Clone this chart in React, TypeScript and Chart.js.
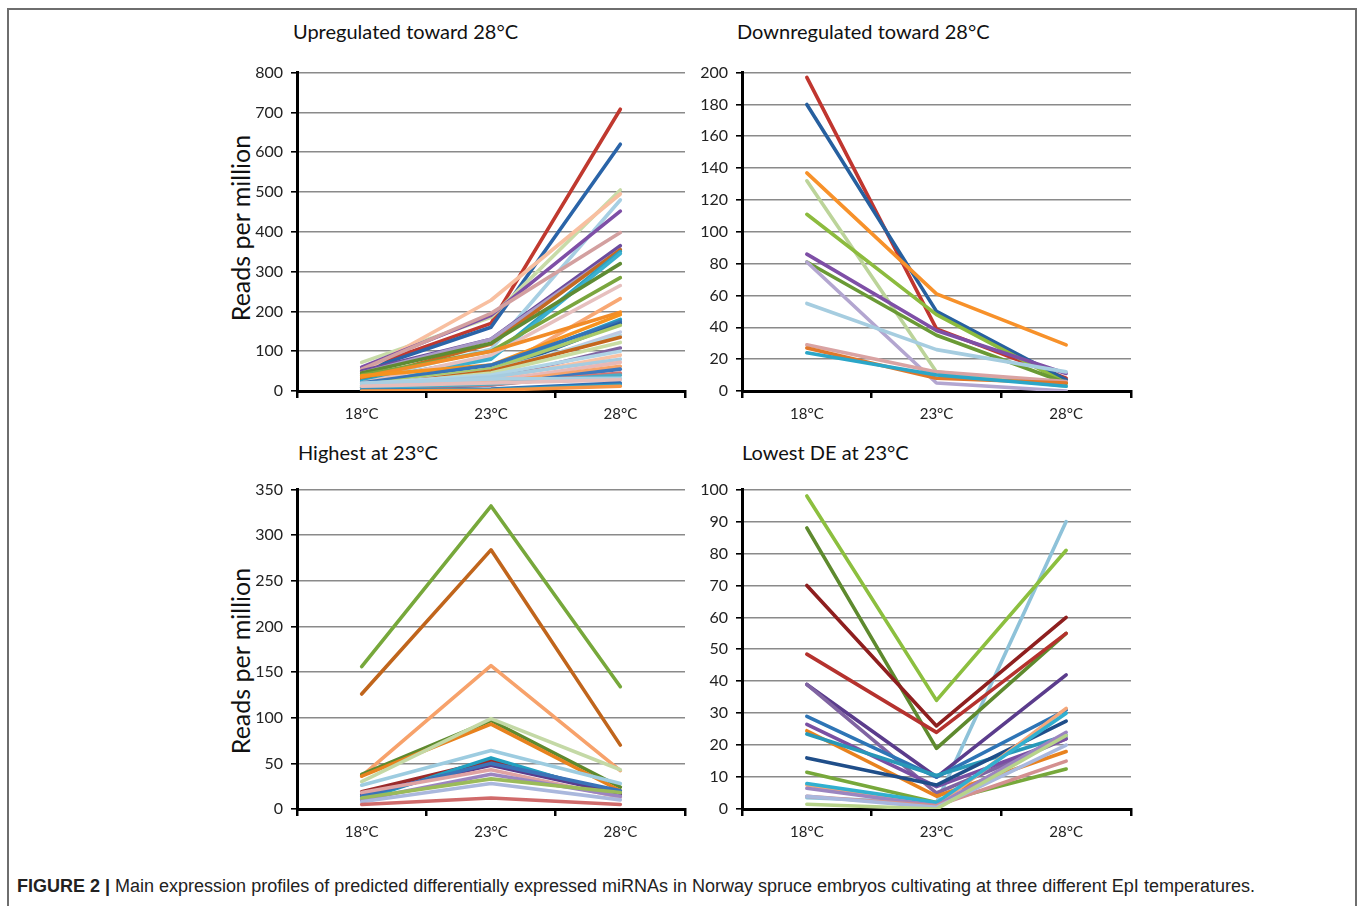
import React, { useEffect, useRef } from "react";
import { Chart, registerables } from "chart.js";

Chart.register(...registerables);

// ---------- data ----------
const temperatures = ["18°C", "23°C", "28°C"];

// Upregulated toward 28°C: [18°C, 23°C, 28°C]
const upregulated: number[][] = [
  [0, 2, 12], [1, 3, 15], [2, 5, 20], [12, 20, 28], [20, 30, 32], [8, 18, 40],
  [5, 15, 45], [3, 15, 55], [5, 20, 62], [10, 25, 72], [15, 35, 80], [8, 30, 90],
  [18, 40, 100], [5, 30, 108], [12, 45, 122], [10, 50, 135], [12, 50, 140],
  [10, 40, 148], [15, 55, 165], [8, 45, 170], [20, 65, 175], [10, 55, 180],
  [38, 65, 192], [35, 100, 198], [15, 45, 232], [20, 90, 265], [40, 100, 285],
  [45, 120, 320], [22, 80, 345], [25, 85, 350], [30, 118, 355], [45, 130, 355],
  [50, 130, 365], [55, 195, 398], [60, 190, 452], [28, 105, 480], [48, 228, 495],
  [72, 185, 505], [50, 160, 620], [55, 170, 708],
];
const upColors = [
  "#F79646", "#2E9FC2", "#2F6EB5", "#E6BDBB", "#A9CFE2", "#4BACC6",
  "#D27573", "#3C79BE", "#F7A36A", "#E8B8B6", "#A6CCE0", "#F9C2A4",
  "#B0D4E6", "#8064A2", "#C9DDA4", "#C4661D", "#B4D6E6",
  "#BFC8E4", "#A9CA6A", "#285F9E", "#3574B8", "#2A9EC1",
  "#F6921E", "#F28C28", "#F8A874", "#E6C0BE", "#7AA63E",
  "#5F8B33", "#3BB0CF", "#2CA0C0", "#C46A22", "#A99BC7",
  "#6C4C9E", "#D3A0A0", "#7E4FA6", "#A7CFE3", "#F8BFA0",
  "#C8DBA8", "#2A64A8", "#C0392F",
];

// Downregulated toward 28°C
const downregulated: number[][] = [
  [24, 10, 3], [27, 8, 5], [29, 12, 6], [55, 26, 12], [81, 5, 0], [81, 35, 5],
  [86, 38, 11], [111, 48, 5], [132, 12, 3], [137, 61, 29], [180, 50, 7], [197, 39, 8],
];
const downColors = [
  "#2BA6C8", "#E0782A", "#D9A3A3", "#A6CDE0", "#B3A6D0", "#6A9A35",
  "#7E4FA6", "#8CBB3E", "#BCD49A", "#F7912A", "#27609F", "#C0362F",
];

// Highest at 23°C
const highest23: number[][] = [
  [5, 12, 5], [8, 28, 10], [12, 33, 18], [10, 38, 14], [18, 43, 13], [14, 50, 20],
  [16, 48, 17], [10, 56, 14], [19, 53, 17], [26, 64, 28], [30, 99, 43], [36, 93, 20],
  [38, 97, 24], [36, 157, 42], [126, 284, 70], [156, 332, 134],
];
const highColors = [
  "#D06A6A", "#AAB8DD", "#9BBB59", "#9C85C0", "#DFA3A3", "#3A73B8",
  "#5B3C8C", "#22A0C0", "#9B2B2B", "#9DCCE0", "#C4D9A6", "#E8821E",
  "#5E8A2E", "#F7A26B", "#C0651C", "#77A83B",
];

// Lowest DE at 23°C
const lowest23: number[][] = [
  [1.5, 0, 23], [4, 0.5, 20], [4, 1, 15], [6.5, 1, 24], [8, 2, 30], [7.5, 1, 31.5],
  [11.5, 2, 12.5], [16, 7.5, 27.5], [23.5, 10.5, 23], [24.5, 4, 18], [26.5, 7, 22],
  [29, 10, 31], [39, 5, 22], [39, 10, 42], [48.5, 24, 55], [70, 26, 60],
  [88, 19, 55], [98, 34, 81], [3.5, 2, 90],
];
const lowColors = [
  "#B7D38A", "#A9B8DE", "#D49090", "#9C85C0", "#31B0D0", "#F5A77A",
  "#77A83B", "#1F4E89", "#2898B8", "#E8821E", "#7A4FA3",
  "#2E75B6", "#8064A2", "#5B3C8C", "#B5322E", "#8E1F1F",
  "#5E8A2E", "#8CBF3F", "#8EC2D9",
];

// ---------- chart ----------
type PanelProps = {
  series: number[][];
  colors: string[];
  max: number;
  step: number;
  left: number;
  top: number;
  width: number;
  height: number;
  yWidth: number;
};

const FONT = "Lato, 'Open Sans', sans-serif";

function Panel(p: PanelProps) {
  const ref = useRef<HTMLCanvasElement | null>(null);
  useEffect(() => {
    if (!ref.current) return;
    const chart = new Chart(ref.current, {
      type: "line",
      data: {
        labels: temperatures,
        datasets: p.series.map((s, i) => ({
          data: s,
          borderColor: p.colors[i % p.colors.length],
          backgroundColor: p.colors[i % p.colors.length],
          borderWidth: 3.6,
          pointRadius: 0,
          tension: 0,
          fill: false,
          borderCapStyle: "round" as const,
          borderJoinStyle: "round" as const,
        })),
      },
      options: {
        animation: false,
        responsive: false,
        maintainAspectRatio: false,
        layout: { padding: { top: 4, right: 5, left: 0, bottom: 0 } },
        plugins: { legend: { display: false }, tooltip: { enabled: false } },
        scales: {
          x: {
            offset: true,
            grid: {
              offset: true,
              drawOnChartArea: false,
              drawTicks: true,
              tickLength: 7,
              color: "#000",
              lineWidth: 2.5,
            },
            border: { color: "#000", width: 3 },
            ticks: { font: { family: FONT, size: 15 }, color: "#222", padding: 7, maxRotation: 0 },
            afterFit: (s: any) => {
              s.height = 41;
            },
          },
          y: {
            min: 0,
            max: p.max,
            ticks: { stepSize: p.step, font: { family: FONT, size: 16 }, color: "#222", padding: 8 },
            grid: { color: "#8a8a8a", lineWidth: 1.6, tickLength: 6, tickColor: "#000" },
            border: { color: "#000", width: 3 },
            afterFit: (s: any) => {
              s.width = p.yWidth;
            },
          },
        },
      },
    });
    return () => chart.destroy();
  }, []);
  return (
    <canvas
      ref={ref}
      width={p.width}
      height={p.height}
      style={{ position: "absolute", left: p.left, top: p.top, width: p.width, height: p.height }}
    />
  );
}

const titleStyle = (left: number, top: number): React.CSSProperties => ({
  position: "absolute",
  left,
  top,
  fontFamily: FONT,
  fontSize: 20,
  color: "#111",
  whiteSpace: "nowrap",
  lineHeight: "22px",
});

const yTitleStyle = (cx: number, cy: number): React.CSSProperties => ({
  position: "absolute",
  left: cx,
  top: cy,
  transform: "translate(-50%, -50%) rotate(-90deg)",
  fontFamily: FONT,
  fontSize: 25,
  color: "#111",
  whiteSpace: "nowrap",
  lineHeight: "28px",
});

export default function App() {
  useEffect(() => {
    document.body.style.margin = "0";
  }, []);
  return (
    <div style={{ position: "relative", width: 1360, height: 906, overflow: "hidden", background: "#fff" }}>
      <div
        style={{
          position: "absolute",
          left: 7,
          top: 8,
          width: 1346,
          height: 1000,
          border: "2px solid #6e6e6e",
        }}
      />
      <div style={titleStyle(293, 20)}>Upregulated toward 28°C</div>
      <div style={titleStyle(737, 20)}>Downregulated toward 28°C</div>
      <div style={titleStyle(298, 441)}>Highest at 23°C</div>
      <div style={titleStyle(742, 441)}>Lowest DE at 23°C</div>
      <div style={yTitleStyle(240, 228)}>Reads per million</div>
      <div style={yTitleStyle(240, 661)}>Reads per million</div>

      <Panel series={upregulated} colors={upColors} max={800} step={100}
        left={220} top={55} width={470} height={377} yWidth={77} />
      <Panel series={downregulated} colors={downColors} max={200} step={20}
        left={680} top={55} width={456} height={377} yWidth={62} />
      <Panel series={highest23} colors={highColors} max={350} step={50}
        left={220} top={472} width={470} height={378} yWidth={77} />
      <Panel series={lowest23} colors={lowColors} max={100} step={10}
        left={680} top={472} width={456} height={378} yWidth={62} />

      <div
        style={{
          position: "absolute",
          left: 17,
          top: 876,
          fontFamily: "'Liberation Sans', Arial, sans-serif",
          fontSize: 18,
          color: "#222",
          whiteSpace: "nowrap",
          lineHeight: "20px",
        }}
      >
        <b>FIGURE 2 |</b> Main expression profiles of predicted differentially expressed miRNAs in Norway spruce embryos cultivating at three different EpI temperatures.
      </div>
    </div>
  );
}
